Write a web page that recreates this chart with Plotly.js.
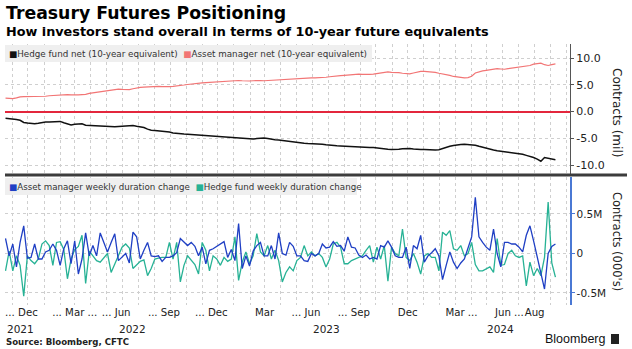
<!DOCTYPE html>
<html><head><meta charset="utf-8">
<script src="https://cdn.plot.ly/plotly-3.0.1.min.js"></script>
<style>html,body{margin:0;padding:0;background:#fff}#chart{width:632px;height:349px}</style>
</head><body><div id="chart"></div>
<script>
// Weekly CFTC report dates (Tuesdays), first report and number of weeks
const startDate = '2021-10-19';
const nWeeks = 152;

// Contracts (millions), 10-year equivalents
const assetManagerNet = [2.5,2.45,2.4,2.55,2.75,2.8,2.8,2.75,2.8,2.85,
2.8,2.85,2.95,3.0,3.1,3.15,3.2,3.15,3.1,3.05,
3.1,3.15,3.2,3.4,3.5,3.55,3.65,3.8,3.95,4.05,
4.15,4.2,4.15,4.1,4.1,4.25,4.4,4.5,4.55,4.6,
4.7,4.75,4.7,4.65,4.6,4.65,4.7,4.75,4.8,4.95,
5.05,5.15,5.25,5.3,5.35,5.4,5.45,5.5,5.55,5.6,
5.65,5.7,5.8,5.85,5.8,5.75,5.7,5.7,5.75,5.8,
5.8,5.75,5.8,5.85,5.9,5.95,6.0,6.05,6.1,6.1,
6.15,6.2,6.2,6.25,6.3,6.3,6.3,6.35,6.4,6.5,
6.6,6.65,6.7,6.75,6.8,6.9,7.0,7.0,6.95,6.9,
6.95,7.0,7.1,7.25,7.35,7.4,7.3,7.3,7.25,7.15,
7.1,7.05,7.2,7.4,7.5,7.5,7.45,7.4,7.3,7.15,
7.05,6.9,6.75,6.55,6.45,6.35,6.3,6.35,6.6,7.2,
7.45,7.6,7.7,7.8,7.95,8.0,7.95,7.9,8.0,8.1,
8.2,8.25,8.35,8.45,8.6,8.85,8.95,9.05,8.75,8.6,
8.75,8.9];

const hedgeFundNet = [-1.25,-1.3,-1.35,-1.5,-1.65,-2.05,-2.15,-2.25,-2.3,-2.2,
-2.05,-1.95,-1.95,-1.9,-1.85,-1.85,-2.1,-2.35,-2.5,-2.4,
-2.3,-2.3,-2.55,-2.6,-2.6,-2.65,-2.7,-2.75,-2.8,-2.85,
-2.85,-2.8,-2.75,-2.7,-2.6,-2.6,-2.75,-2.85,-3.0,-3.3,
-3.5,-3.55,-3.6,-3.7,-3.75,-3.85,-4.0,-4.1,-4.1,-4.2,
-4.25,-4.3,-4.4,-4.45,-4.5,-4.55,-4.6,-4.7,-4.75,-4.8,
-4.85,-4.9,-4.95,-5.0,-5.05,-5.1,-5.15,-5.2,-5.15,-5.05,
-5.0,-4.95,-5.05,-5.2,-5.3,-5.35,-5.45,-5.55,-5.65,-5.75,
-5.85,-5.95,-5.95,-6.0,-6.0,-6.05,-6.05,-6.1,-6.2,-6.3,
-6.35,-6.4,-6.45,-6.5,-6.55,-6.6,-6.65,-6.65,-6.7,-6.7,
-6.75,-6.75,-6.85,-6.9,-6.95,-7.05,-7.1,-7.1,-7.05,-6.95,
-6.9,-6.9,-7.0,-7.1,-7.1,-7.1,-7.15,-7.15,-7.2,-7.15,
-6.9,-6.7,-6.5,-6.35,-6.2,-6.15,-6.1,-6.15,-6.2,-6.3,
-6.5,-6.7,-6.9,-7.05,-7.2,-7.35,-7.45,-7.5,-7.6,-7.7,
-7.75,-7.85,-8.0,-8.2,-8.35,-8.6,-8.9,-9.3,-8.6,-8.7,
-8.85,-9.0];

// Weekly duration change (millions of contracts)
const assetManagerWeekly = [0.19,-0.03,0.12,-0.17,0.14,0.35,-0.06,-0.05,0.12,-0.07,
-0.07,0.02,0.04,0.12,0.04,-0.15,0.06,0.16,-0.13,0.16,
-0.26,-0.07,0.26,-0.03,0.10,-0.03,0.26,0.14,0.02,0.14,
0.25,-0.09,-0.05,0.0,-0.12,0.27,0.21,-0.07,0.04,0.14,
-0.03,-0.04,-0.03,-0.10,-0.05,-0.05,-0.03,0.01,0.19,0.14,
0.10,0.14,0.09,-0.03,0.08,-0.13,0.04,0.06,0.09,0.12,
0.15,-0.05,0.05,-0.09,0.38,-0.19,-0.03,-0.16,0.03,0.10,
0.14,-0.03,-0.03,0.10,-0.07,0.26,0.0,-0.02,0.14,0.09,
-0.03,-0.03,-0.09,-0.10,0.0,-0.03,0.0,0.12,0.07,0.08,
0.15,0.09,0.10,0.03,0.21,0.08,0.07,-0.02,-0.05,-0.02,
-0.07,-0.05,-0.07,0.10,0.08,0.16,0.08,-0.03,-0.05,-0.05,
0.08,-0.19,0.10,0.06,0.23,-0.11,-0.03,0.01,0.06,-0.03,
-0.33,-0.15,0.02,-0.11,-0.19,-0.12,-0.07,0.07,0.21,0.71,
0.21,0.14,0.08,0.04,0.31,0.0,-0.17,0.14,0.14,0.12,
0.12,0.08,0.02,0.23,0.35,0.16,-0.05,-0.24,-0.45,0.0,
0.09,0.12];

const hedgeFundWeekly = [-0.22,0.03,-0.22,-0.03,-0.15,-0.54,-0.03,-0.09,-0.13,-0.07,
0.12,0.16,0.10,-0.15,0.14,0.15,0.05,-0.32,-0.07,0.05,
0.09,0.23,-0.38,0.03,-0.03,-0.09,-0.11,-0.05,0.0,-0.24,
-0.13,-0.03,0.08,0.12,0.07,-0.19,-0.15,-0.10,-0.08,-0.28,
-0.19,-0.07,-0.06,-0.05,-0.05,0.14,-0.07,0.14,-0.36,-0.15,
-0.03,-0.09,-0.14,-0.26,0.14,0.04,-0.22,-0.03,-0.07,-0.15,
-0.05,-0.10,-0.07,0.21,-0.34,-0.11,0.02,-0.13,-0.03,0.25,
0.02,-0.03,0.10,-0.07,0.04,-0.09,-0.36,-0.24,-0.17,-0.22,
-0.09,-0.05,0.10,-0.03,0.02,-0.03,0.0,-0.05,-0.17,-0.07,
0.12,0.14,0.08,-0.13,-0.13,-0.09,-0.07,-0.05,-0.03,0.04,
0.10,-0.11,0.08,-0.07,0.10,-0.35,0.08,0.0,-0.03,0.31,
-0.05,-0.09,0.0,-0.11,-0.26,-0.03,0.0,-0.05,-0.05,-0.22,
0.27,0.23,0.29,0.06,0.04,0.10,-0.03,0.0,0.14,-0.14,
-0.22,-0.22,-0.19,-0.17,-0.24,0.19,-0.15,-0.14,0.0,0.04,
-0.03,-0.05,-0.03,-0.41,-0.11,-0.28,-0.19,-0.28,-0.05,0.65,
-0.12,-0.30];

// Axis labels
const monthTickDates = ['2021-12-01','2022-03-01','2022-06-01','2022-09-01','2022-12-01','2023-03-01',
  '2023-06-01','2023-09-01','2023-12-01','2024-03-01','2024-06-01','2024-08-01'];
const NB = '\u00a0\u00a0\u00a0\u00a0';
const monthTickText = ['... Dec'+NB,'... Mar ...','... Jun'+NB,'... Sep'+NB,'... Dec'+NB,'Mar',
  '... Jun'+NB,'... Sep'+NB,'Dec',NB+'Mar ...',NB+'Jun ...','Aug'];
const yearLabels = ['2021','2022','2023','2024'];
const yearLabelDates = ['2021-11-16','2022-06-21','2023-06-28','2024-05-27'];

const dates = [];
{
  const d0 = new Date(startDate + 'T00:00:00Z');
  for (let i = 0; i < nWeeks; i++) {
    const d = new Date(d0.getTime() + i * 7 * 86400000);
    dates.push(d.toISOString().slice(0, 10));
  }
}

const FONT = 'DejaVu Sans';
const C_BLACK = '#111111', C_PINK = '#f27575', C_BLUE = '#1f3fc4', C_TEAL = '#27b295';

const traces = [
  {x: dates, y: assetManagerNet, xaxis: 'x', yaxis: 'y', mode: 'lines', line: {color: C_PINK, width: 1.2}, name: 'Asset manager net (10-year equivalent)'},
  {x: dates, y: hedgeFundNet, xaxis: 'x', yaxis: 'y', mode: 'lines', line: {color: C_BLACK, width: 1.5}, name: 'Hedge fund net (10-year equivalent)'},
  {x: dates, y: hedgeFundWeekly, xaxis: 'x', yaxis: 'y2', mode: 'lines', line: {color: C_TEAL, width: 1.3}, name: 'Hedge fund weekly duration change'},
  {x: dates, y: assetManagerWeekly, xaxis: 'x', yaxis: 'y2', mode: 'lines', line: {color: C_BLUE, width: 1.3}, name: 'Asset manager weekly duration change'}
];

const L = 5, R = 570, T = 44, B = 305;
const px = v => (v - L) / (R - L);
const py = v => (B - v) / (B - T);
const GRID = '#cfcfcf';

const annotations = [
  {xref: 'paper', yref: 'paper', x: px(4), y: py(13), xanchor: 'left', yanchor: 'middle', showarrow: false,
   text: '<b>Treasury Futures Positioning</b>', font: {family: FONT, size: 17.3, color: '#000'}},
  {xref: 'paper', yref: 'paper', x: px(4), y: py(31), xanchor: 'left', yanchor: 'middle', showarrow: false,
   text: '<b>How investors stand overall in terms of 10-year future equivalents</b>', font: {family: FONT, size: 12.8, color: '#000'}},
  {xref: 'paper', yref: 'paper', x: px(7), y: py(54), xanchor: 'left', yanchor: 'middle', showarrow: false,
   text: '<span style="color:' + C_BLACK + '">■</span>Hedge fund net (10-year equivalent)  <span style="color:' + C_PINK + '">■</span>Asset manager net (10-year equivalent)',
   font: {family: FONT, size: 8.75, color: '#333'}},
  {xref: 'paper', yref: 'paper', x: px(7), y: py(187), xanchor: 'left', yanchor: 'middle', showarrow: false,
   text: '<span style="color:' + C_BLUE + '">■</span>Asset manager weekly duration change  <span style="color:' + C_TEAL + '">■</span>Hedge fund weekly duration change',
   font: {family: FONT, size: 8.7, color: '#333'}},
  {xref: 'paper', yref: 'paper', x: px(617), y: py(112), xanchor: 'center', yanchor: 'middle', showarrow: false, textangle: 90,
   text: 'Contracts (mil)', font: {family: FONT, size: 12, color: '#222'}},
  {xref: 'paper', yref: 'paper', x: px(617), y: py(241), xanchor: 'center', yanchor: 'middle', showarrow: false, textangle: 90,
   text: "Contracts (000's)", font: {family: FONT, size: 11.5, color: '#222'}},
  {xref: 'paper', yref: 'paper', x: px(4), y: py(342), xanchor: 'left', yanchor: 'middle', showarrow: false,
   text: '<b>Source: Bloomberg, CFTC</b>', font: {family: FONT, size: 8.6, color: '#222'}},
  {xref: 'paper', yref: 'paper', x: px(607), y: py(339), xanchor: 'right', yanchor: 'middle', showarrow: false,
   text: 'Bloomberg', font: {family: 'Liberation Sans', size: 12.5, color: '#111'}}
];
yearLabels.forEach((t, i) => annotations.push({
  xref: 'x', yref: 'paper', x: yearLabelDates[i], y: py(329), xanchor: 'center', yanchor: 'middle', showarrow: false,
  text: t, font: {family: FONT, size: 10.5, color: '#222'}
}));

const shapes = [
  {type: 'rect', xref: 'paper', yref: 'paper', x0: 0, x1: px(372), y0: py(62), y1: py(45), fillcolor: '#efefef', line: {width: 0}, layer: 'above'},
  {type: 'rect', xref: 'paper', yref: 'paper', x0: 0, x1: px(357), y0: py(195), y1: py(178), fillcolor: '#efefef', line: {width: 0}, layer: 'above'},
  {type: 'line', xref: 'paper', yref: 'paper', x0: 0, x1: px(627), y0: py(175), y1: py(175), line: {color: '#3c3c3c', width: 3}, layer: 'above'},
  {type: 'rect', xref: 'paper', yref: 'paper', x0: px(611), x1: px(619), y0: py(344), y1: py(334), fillcolor: '#222', line: {width: 0}}
];

const layout = {
  width: 632, height: 349,
  margin: {l: L, r: 632 - R, t: T, b: 349 - B},
  paper_bgcolor: '#fff', plot_bgcolor: '#fff',
  showlegend: false,
  font: {family: FONT, size: 10, color: '#222'},
  xaxis: {
    type: 'date', anchor: 'y2', range: ['2021-10-18', '2024-10-08'],
    tickmode: 'array', tickvals: monthTickDates, ticktext: monthTickText, ticks: '', tickangle: 0,
    tickfont: {family: FONT, size: 10.2, color: '#222'},
    showgrid: true, gridcolor: GRID, griddash: 'dot', gridwidth: 1,
    minor: {dtick: 'M1', tick0: '2021-11-01', showgrid: true, gridcolor: GRID, griddash: 'dot', gridwidth: 1, ticks: ''},
    zeroline: false, showline: false, fixedrange: true
  },
  yaxis: {
    domain: [py(175), 1], anchor: 'x', side: 'right', range: [-11.87, 12.62],
    tickmode: 'array', tickvals: [-10, -5, 0, 5, 10], ticktext: ['-10.0', '-5.0', '0.0', '5.0', '10.0'],
    ticks: 'outside', ticklen: 3, tickcolor: '#555', tickfont: {family: FONT, size: 11, color: '#222'},
    showgrid: true, gridcolor: GRID, griddash: 'dot',
    zeroline: true, zerolinecolor: '#e3263c', zerolinewidth: 2,
    showline: true, linecolor: '#555', linewidth: 1, fixedrange: true
  },
  yaxis2: {
    domain: [0, py(177)], anchor: 'x', side: 'right', range: [-0.652, 0.968],
    tickmode: 'array', tickvals: [-0.5, 0, 0.5], ticktext: ['-0.5M', '0', '0.5M'],
    ticks: 'outside', ticklen: 3, tickcolor: '#4a78d4', tickfont: {family: FONT, size: 10.5, color: '#222'},
    showgrid: true, gridcolor: GRID, griddash: 'dot', zeroline: false,
    showline: true, linecolor: '#4a78d4', linewidth: 1.5, fixedrange: true
  },
  annotations: annotations,
  shapes: shapes
};

Plotly.newPlot('chart', traces, layout, {staticPlot: true, displayModeBar: false});
</script></body></html>
